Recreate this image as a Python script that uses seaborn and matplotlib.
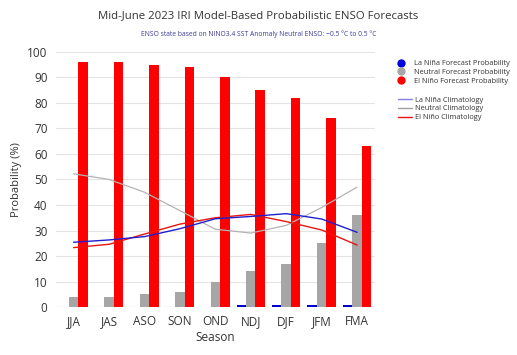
import matplotlib
matplotlib.use("Agg")
import matplotlib.pyplot as plt
from matplotlib.lines import Line2D
import numpy as np
import pandas as pd
import seaborn as sns

seasons = ["JJA", "JAS", "ASO", "SON", "OND", "NDJ", "DJF", "JFM", "FMA"]
lanina_prob = [0, 0, 0, 0, 0, 1, 1, 1, 1]
neutral_prob = [4, 4, 5, 6, 10, 14, 17, 25, 36]
elnino_prob = [96, 96, 95, 94, 90, 85, 82, 74, 63]
lanina_clim = [25.4, 26.3, 27.6, 30.7, 34.6, 35.5, 36.6, 34.5, 29.3]
neutral_clim = [52.2, 50.0, 45.0, 37.8, 30.5, 29.0, 32.0, 39.0, 47.0]
elnino_clim = [23.3, 24.6, 28.6, 32.5, 35.0, 36.3, 33.5, 30.2, 24.3]

kinds = ["La Niña", "Neutral", "El Niño"]
df = pd.DataFrame({
    "Season": seasons * 3,
    "Probability": lanina_prob + neutral_prob + elnino_prob,
    "kind": [k for k in kinds for _ in seasons],
})

bar_colors = {"La Niña": "#0000cc", "Neutral": "#a6a6a6", "El Niño": "#ff0000"}

sns.set_style("white")
plt.rcParams["font.family"] = ["Open Sans", "DejaVu Sans"]

fig = plt.figure(figsize=(5.17, 3.55), dpi=100)
ax = fig.add_axes([0.108, 0.135, 0.617, 0.719])

sns.barplot(data=df, x="Season", y="Probability", hue="kind", order=seasons,
            hue_order=kinds, palette=bar_colors, width=0.8, gap=0.0,
            saturation=1, linewidth=0, legend=False, ax=ax)

xs = np.arange(len(seasons))
ax.plot(xs, neutral_clim, color="#b3b3b3", lw=0.9, zorder=3)
ax.plot(xs, elnino_clim, color="#e8140c", lw=1.0, zorder=3)
ax.plot(xs, lanina_clim, color="#1f1fd0", lw=1.0, zorder=3)

ax.set_ylim(0, 100)
ax.set_xlim(-0.5, len(seasons) - 0.5)
ax.set_yticks(range(0, 101, 10))
ax.yaxis.grid(True, color="#e4e4e4", lw=0.8)
ax.set_axisbelow(True)
for s in ax.spines.values():
    s.set_visible(False)
ax.axhline(0, color="#d0d0d0", lw=0.8, zorder=0)
ax.tick_params(axis="both", length=0, labelsize=8.5, colors="#333333", pad=6)
ax.set_xlabel("Season", fontsize=8.5, color="#333333", labelpad=2)
ax.set_ylabel("Probability (%)", fontsize=8, color="#333333", labelpad=4)

fig.text(0.5, 0.955, "Mid-June 2023 IRI Model-Based Probabilistic ENSO Forecasts",
         ha="center", va="center", fontsize=8.2, color="#333333")
fig.text(0.5, 0.904, "ENSO state based on NINO3.4 SST Anomaly Neutral ENSO: \u22120.5 \u00b0C to 0.5 \u00b0C",
         ha="center", va="center", fontsize=4.9, color="#3b3b9b")

dot_handles = [
    Line2D([], [], ls="", marker="o", ms=5, color="#0000dd"),
    Line2D([], [], ls="", marker="o", ms=5, color="#a6a6a6"),
    Line2D([], [], ls="", marker="o", ms=5, color="#ff0000"),
]
dot_labels = ["La Niña Forecast Probability", "Neutral Forecast Probability",
              "El Niño Forecast Probability"]
line_handles = [
    Line2D([], [], color="#8080e8", lw=1),
    Line2D([], [], color="#a0a0a0", lw=1),
    Line2D([], [], color="#e8140c", lw=1),
]
line_labels = ["La Niña Climatology", "Neutral Climatology", "El Niño Climatology"]

leg1 = fig.legend(dot_handles, dot_labels, loc="upper left", bbox_to_anchor=(0.76, 0.841),
                  frameon=False, fontsize=5.3, handlelength=1.2, handletextpad=1.1,
                  labelspacing=0.2, borderpad=0)
leg2 = fig.legend(line_handles, line_labels, loc="upper left", bbox_to_anchor=(0.762, 0.738),
                  frameon=False, fontsize=5.3, handlelength=2.0, handletextpad=0.3,
                  labelspacing=0.2, borderpad=0)
for leg in (leg1, leg2):
    for t in leg.get_texts():
        t.set_color("#333333")

fig.savefig("out.png", dpi=100)
